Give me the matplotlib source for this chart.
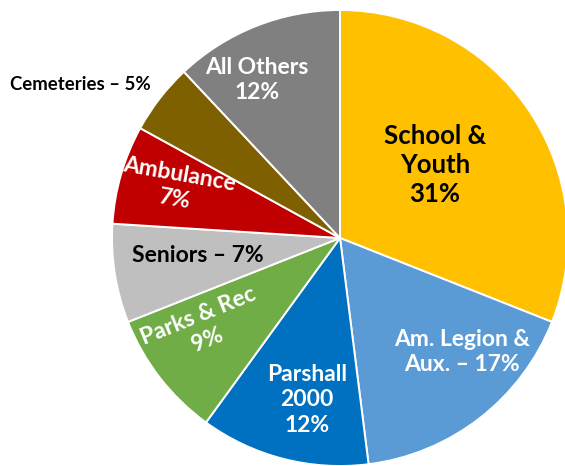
import matplotlib.pyplot as plt

# slices, clockwise from 12 o'clock
categories = ["School & Youth", "Am. Legion & Aux.", "Parshall 2000", "Parks & Rec",
              "Seniors", "Ambulance", "Cemeteries", "All Others"]
shares = [31, 17, 12, 9, 7, 7, 5, 12]
labels = ["School &\nYouth\n31%", "Am. Legion &\nAux. – 17%", "Parshall\n2000\n12%",
          "Parks & Rec\n9%", "Seniors – 7%", "Ambulance\n7%", "Cemeteries – 5%",
          "All Others\n12%"]

COLORS = ["#FFC000", "#5B9BD5", "#0070C0", "#70AD47", "#BFBFBF", "#C00000", "#7F6000", "#808080"]
# label placement in pixel coords (x, y from top), colour, size, rotation
LABEL_POS = [(435, 165), (462, 352), (307, 400), (203, 328), (198, 255), (177, 187), (80, 85), (257, 80)]
LABEL_COL = ["black", "white", "white", "white", "black", "white", "black", "white"]
LABEL_SIZE = [18.5, 16.5, 16.5, 16.5, 16.5, 16.5, 13.4, 16.5]
LABEL_ROT = [0, 0, 0, 22, 0, -10, 0, 0]

W, H = 565, 466
fig = plt.figure(figsize=(W / 100, H / 100), dpi=100)
ax = fig.add_axes([0, 0, 1, 1])

ax.pie(shares, colors=COLORS, startangle=90, counterclock=False,
       center=(340, H - 238), radius=228, frame=True,
       wedgeprops=dict(edgecolor="white", linewidth=1.4))
ax.set_xlim(0, W)
ax.set_ylim(0, H)
ax.set_aspect("equal")
ax.axis("off")

for lab, (x, y), c, s, r in zip(labels, LABEL_POS, LABEL_COL, LABEL_SIZE, LABEL_ROT):
    ax.text(x, H - y, lab, color=c, fontsize=s, rotation=r, ha="center", va="center",
            fontweight="bold", family=["Lato", "DejaVu Sans"], linespacing=1.25,
            rotation_mode="anchor")

fig.savefig("out.png", dpi=100, facecolor="white")
